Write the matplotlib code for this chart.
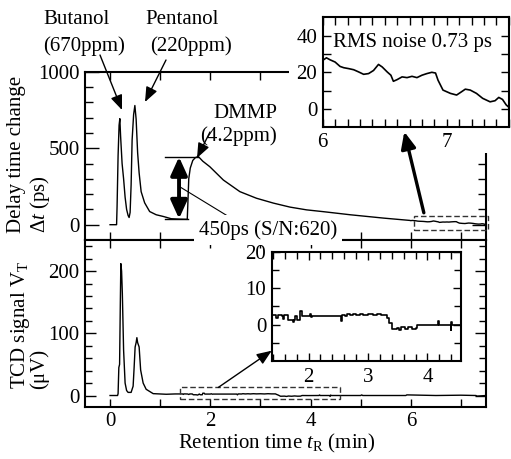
import numpy as np
import matplotlib
matplotlib.use("Agg")
import matplotlib.pyplot as plt
from matplotlib.patches import Rectangle
from matplotlib.ticker import MultipleLocator, FixedLocator

# -----------------------------
# DATA
# -----------------------------
# delay time change, main trace (min, ps)
top_t = [0.00, 0.13, 0.14, 0.16, 0.18, 0.195, 0.21, 0.24, 0.27, 0.30,
         0.33, 0.36, 0.38, 0.40, 0.42, 0.44, 0.47, 0.495, 0.52, 0.55,
         0.58, 0.62, 0.69, 0.79, 0.92, 1.06, 1.22, 1.40, 1.54, 1.55,
         1.57, 1.60, 1.65, 1.70, 1.76, 1.85, 1.99, 2.26, 2.59, 2.92,
         3.26, 3.59, 3.92, 4.26, 4.79, 5.46, 5.98]
top_dt = [0, 0, 120, 450, 650, 693, 580, 400, 300, 180,
          100, 60, 47, 80, 260, 554, 720, 779, 690, 470,
          338, 216, 143, 86, 65, 54, 39, 36, 35, 120,
          300, 370, 420, 438, 446, 415, 379, 292, 216, 173,
          141, 115, 97, 85, 65, 43, 28]

# baseline noise 6 - 7.5 min (ps)
noise_t = [6.00, 6.03, 6.06, 6.10, 6.14, 6.17, 6.21, 6.25, 6.29,
           6.33, 6.37, 6.41, 6.45, 6.48, 6.52, 6.55, 6.57, 6.60, 6.64,
           6.68, 6.72, 6.76, 6.80, 6.84, 6.88, 6.91, 6.93, 6.97, 7.03,
           7.08, 7.12, 7.15, 7.19, 7.24, 7.29, 7.35, 7.39, 7.42, 7.45,
           7.48, 7.51]
noise_dt = [26.5, 27.9, 26.8, 25.6, 23.2, 22.5, 22.0, 21.4, 20.2,
            18.9, 19.3, 21.0, 24.3, 22.9, 20.2, 18.4, 15.1, 16.0, 17.5,
            17.1, 17.8, 17.1, 18.4, 19.3, 20.0, 19.6, 15.7, 10.3, 8.5,
            7.6, 9.4, 10.8, 10.3, 8.5, 5.8, 3.9, 4.5, 6.3, 5.2,
            2.2, 0.4]

# TCD signal (min, uV)
tcd_t = [0.00, 0.15, 0.16, 0.175, 0.19, 0.205, 0.215, 0.23, 0.245, 0.27,
         0.30, 0.33, 0.36, 0.42, 0.46, 0.48, 0.50, 0.52, 0.535, 0.55,
         0.58, 0.61, 0.66, 0.72, 0.86, 1.12, 1.30]
tcd_v = [0, 0, 3, 45, 50, 150, 212, 200, 164, 73,
         20, 8, 5, 5, 15, 45, 78, 85, 93, 85,
         78, 41, 20, 10, 3, 2, 2.5]

# TCD zoom 1.4 - 4.5 min
zoom_t = [1.38, 1.45, 1.46, 1.48, 1.55, 1.57, 1.59, 1.64, 1.66, 1.72,
          1.74, 1.76, 1.78, 1.80, 1.84, 1.85, 1.88, 1.89, 2.00, 2.02,
          2.04, 2.06, 2.53, 2.54, 2.56, 2.62, 2.65, 2.70, 2.75, 2.80,
          2.86, 2.92, 3.00, 3.08, 3.15, 3.22, 3.30, 3.32, 3.36, 3.40,
          3.48, 3.52, 3.56, 3.62, 3.68, 3.74, 3.80, 3.83, 3.95, 4.17,
          4.18, 4.19, 4.38, 4.39, 4.40, 4.41, 4.56]
zoom_v = [2.5, 2.5, 1.8, 2.6, 2.4, 1.6, 2.5, 2.5, 1.2, 1.2,
          0.7, 1.2, 2.4, 1.2, 1.2, 3.7, 3.7, 2.3, 2.3, 2.8,
          2.1, 2.3, 2.3, 1.0, 2.6, 2.4, 2.9, 2.5, 2.8, 2.5,
          2.9, 2.6, 2.8, 2.5, 2.9, 2.6, 2.6, 1.8, 0.5, -1.2,
          -1.0, -1.5, -0.8, -1.2, -0.7, -1.1, -1.0, 0.0, -0.1, 0.0,
          0.9, 0.0, 0.0, -1.4, 0.8, 0.0, 0.0]

# TCD tail after the zoom window
tail_t = [4.60, 5.00, 5.02, 5.04, 5.50, 5.90, 5.92, 6.50, 7.00, 7.30, 7.32, 7.50]
tail_v = [0, 0, 1, 0, 0, 0, 1, 0, 0.5, 0, -1, 0]

# DMMP step levels (ps)
dmmp_peak = 443
dmmp_base = 39

# -----------------------------
# STYLE
# -----------------------------
plt.rcParams['font.family'] = ['Liberation Serif', 'DejaVu Serif']
plt.rcParams['font.size'] = 15
plt.rcParams['mathtext.fontset'] = 'custom'
plt.rcParams['mathtext.rm'] = 'Liberation Serif'
plt.rcParams['mathtext.it'] = 'Liberation Serif:italic'

W, H = 511, 459


def fx(p):
    return p / W


def fy(p):
    return 1 - p / H


fig = plt.figure(figsize=(W / 100, H / 100), dpi=100)

ax_top = fig.add_axes([fx(85), fy(240), (486 - 85) / W, (240 - 71.7) / H])
ax_bot = fig.add_axes([fx(85), fy(406.7), (486 - 85) / W, (406.7 - 240) / H])
ax_in1 = fig.add_axes([fx(322.7), fy(127.3), 186 / W, 110 / H], zorder=2)
ax_in2 = fig.add_axes([fx(271.7), fy(361), 189 / W, 109.3 / H], zorder=2)


def style(ax, lw=1.5):
    for s in ax.spines.values():
        s.set_linewidth(lw)
    ax.tick_params(which='both', direction='in', top=True, right=True, width=1)


# main traces
ax_top.plot(top_t + noise_t, top_dt + noise_dt, color='k', lw=1.0)
ax_bot.plot(tcd_t + zoom_t + tail_t, tcd_v + zoom_v + tail_v, color='k', lw=1.0)

for ax in (ax_top, ax_bot):
    style(ax)
    ax.set_xlim(-0.5, 7.5)
    ax.xaxis.set_major_locator(MultipleLocator(2))
    ax.xaxis.set_minor_locator(MultipleLocator(1))
    ax.tick_params(axis='x', which='both', length=6)

ax_top.set_ylim(-100, 1000)
ax_top.yaxis.set_major_locator(MultipleLocator(500))
ax_top.yaxis.set_minor_locator(MultipleLocator(100))
ax_top.tick_params(axis='y', which='major', length=10, pad=4)
ax_top.tick_params(axis='y', which='minor', length=6)
ax_top.tick_params(axis='x', labelbottom=False)

ax_bot.set_ylim(-18, 250)
ax_bot.yaxis.set_major_locator(MultipleLocator(100))
ax_bot.yaxis.set_minor_locator(MultipleLocator(20))
ax_bot.tick_params(axis='y', which='major', length=8, pad=4)
ax_bot.tick_params(axis='y', which='minor', length=5)
ax_bot.tick_params(axis='x', pad=4)

# white area behind the noise inset
ax_top.add_patch(Rectangle((fx(289), fy(153)), 1 - fx(289), 153 / H,
                           transform=fig.transFigure, facecolor='white',
                           edgecolor='none', zorder=10, clip_on=False))

# inset 1: baseline noise
ax_in1.plot(noise_t, noise_dt, color='k', lw=1.2)
style(ax_in1)
ax_in1.set_xlim(6, 7.5)
ax_in1.set_ylim(-10, 50)
ax_in1.xaxis.set_major_locator(MultipleLocator(1))
ax_in1.xaxis.set_minor_locator(MultipleLocator(0.1))
ax_in1.yaxis.set_major_locator(FixedLocator([0, 20, 40]))
ax_in1.yaxis.set_minor_locator(FixedLocator([10, 30]))
ax_in1.tick_params(which='both', length=6)
ax_in1.tick_params(axis='x', pad=4)
ax_in1.tick_params(axis='y', pad=4)

# inset 2: TCD zoom
ax_in2.plot(zoom_t, zoom_v, color='k', lw=1.2, drawstyle='steps-post')
style(ax_in2)
ax_in2.set_xlim(1.38, 4.56)
ax_in2.set_ylim(-10, 20)
ax_in2.xaxis.set_major_locator(MultipleLocator(1))
ax_in2.xaxis.set_minor_locator(MultipleLocator(0.2))
ax_in2.yaxis.set_major_locator(FixedLocator([0, 10, 20]))
ax_in2.yaxis.set_minor_locator(FixedLocator([-5, 5, 15]))
ax_in2.tick_params(which='major', length=6)
ax_in2.tick_params(which='minor', length=5)
ax_in2.tick_params(axis='x', pad=5)
ax_in2.tick_params(axis='y', pad=4)

# dashed zoom windows
ax_top.add_patch(Rectangle((6.06, -33), 1.47, 87, fill=False, ls=(0, (4, 2)),
                           lw=1.0, edgecolor='#333333', clip_on=False, zorder=3))
ax_bot.add_patch(Rectangle((1.39, -6), 3.19, 19, fill=False, ls=(0, (4, 2)),
                           lw=1.0, edgecolor='#333333', clip_on=False, zorder=3))

# -----------------------------
# ARROWS
# -----------------------------
thin = dict(arrowstyle='-|>,head_length=0.6,head_width=0.24', color='k',
            lw=1.0, mutation_scale=15, shrinkA=0, shrinkB=0)
thick = dict(arrowstyle='-|>,head_length=0.5,head_width=0.22', color='k',
             lw=2.4, mutation_scale=20, shrinkA=0, shrinkB=0)

for start, end in [((100, 55), (122, 110)), ((166, 60), (145, 102)),
                   ((210, 132), (197, 158))]:
    ax_top.annotate('', xy=(fx(end[0]), fy(end[1])), xycoords='figure fraction',
                    xytext=(fx(start[0]), fy(start[1])), textcoords='figure fraction',
                    arrowprops=thin, annotation_clip=False, zorder=11)

# 450 ps step
ax_top.plot([1.09, 1.75], [dmmp_peak, dmmp_peak], color='k', lw=1.0)
ax_top.plot([1.09, 1.556], [dmmp_base, dmmp_base], color='k', lw=1.0)
ax_top.annotate('', xy=(1.376, dmmp_base), xytext=(1.376, dmmp_peak),
                arrowprops=dict(arrowstyle='<|-|>,head_length=0.55,head_width=0.25',
                                color='k', lw=2.8, mutation_scale=20,
                                shrinkA=0, shrinkB=0))
ax_top.plot([1.39, 2.63], [248, 0], color='k', lw=0.8, clip_on=False)

# arrow to noise inset
ax_top.annotate('', xy=(fx(404.3), fy(131.7)), xycoords='figure fraction',
                xytext=(6.26, 78), textcoords='data',
                arrowprops=thick, annotation_clip=False, zorder=11)
# arrow to TCD inset
ax_bot.annotate('', xy=(fx(271.7), fy(350.7)), xycoords='figure fraction',
                xytext=(2.16, 13), textcoords='data',
                arrowprops=dict(thin, lw=1.0), annotation_clip=False, zorder=11)

# -----------------------------
# TEXT
# -----------------------------
def ftext(x, y, s, **kw):
    kw.setdefault('va', 'center')
    kw.setdefault('ha', 'left')
    fig.text(fx(x), fy(y), s, zorder=12, **kw)


ftext(43, 20, 'Butanol')
ftext(43, 46, '(670ppm)')
ftext(145, 20, 'Pentanol')
ftext(150, 46, '(220ppm)')
ftext(213, 113, 'DMMP')
ftext(200, 136, '(4.2ppm)')
ftext(333, 43, 'RMS noise 0.73 ps')
ftext(199, 230, '450ps (S/N:620)',
      bbox=dict(boxstyle='square,pad=0.25', facecolor='white', edgecolor='none'))

ftext(17, 233, 'Delay time change', rotation=90, ha='center', va='bottom')
ftext(40.5, 233, r'$\mathit{\Delta t}$ (ps)', rotation=90, ha='center', va='bottom')
ftext(29, 389, r'TCD signal V$_\mathrm{T}$' + '\n(μV)', rotation=90,
      ha='center', va='bottom', multialignment='left', linespacing=0.85)
ftext(277, 448, r'Retention time $t_\mathrm{R}$ (min)', ha='center', va='baseline')

fig.savefig('out.png', dpi=100, facecolor='white')
